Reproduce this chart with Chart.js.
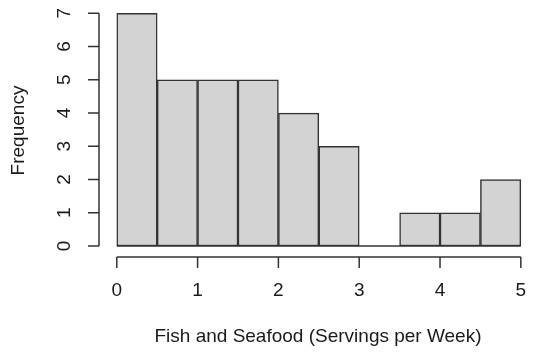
<!DOCTYPE html>
<html>
<head>
<meta charset="utf-8">
<script src="https://cdn.jsdelivr.net/npm/chart.js@4"></script>
<style>
  html, body { margin: 0; padding: 0; background: #ffffff; }
  canvas { display: block; }
</style>
</head>
<body>
<canvas id="hist" width="537" height="354"></canvas>
<script>
// Histogram bins (servings per week) and their counts
const binEdges = [0, 0.5, 1, 1.5, 2, 2.5, 3, 3.5, 4, 4.5, 5];
const counts = [7, 5, 5, 5, 4, 3, 0, 1, 1, 2];
const xTicks = [0, 1, 2, 3, 4, 5];
const yTicks = [0, 1, 2, 3, 4, 5, 6, 7];
const xTitle = 'Fish and Seafood (Servings per Week)';
const yTitle = 'Frequency';

const FONT = '19px "Liberation Sans", Arial, sans-serif';
const INK = '#1a1a1a';

// bar centres built from the bin edges
const barPoints = counts.map((c, i) => ({ x: (binEdges[i] + binEdges[i + 1]) / 2, y: c }));

// R-style detached axes, tick marks, labels and titles
const baseAxes = {
  id: 'baseAxes',
  afterDatasetsDraw(chart) {
    const { ctx, chartArea, scales: { x, y } } = chart;
    const axisX = chartArea.left;
    const axisY = chartArea.bottom;
    const tickLen = 11;
    ctx.save();
    ctx.strokeStyle = '#333333';
    ctx.lineWidth = 1.5;
    ctx.lineCap = 'butt';

    // baseline under the bars (shows empty bins too)
    ctx.beginPath();
    ctx.moveTo(x.getPixelForValue(binEdges[0]), y.getPixelForValue(0));
    ctx.lineTo(x.getPixelForValue(binEdges[binEdges.length - 1]), y.getPixelForValue(0));
    ctx.stroke();

    // y axis
    const y0 = y.getPixelForValue(yTicks[0]);
    const y1 = y.getPixelForValue(yTicks[yTicks.length - 1]);
    ctx.beginPath();
    ctx.moveTo(axisX, y0);
    ctx.lineTo(axisX, y1);
    yTicks.forEach(v => {
      const p = y.getPixelForValue(v);
      ctx.moveTo(axisX, p);
      ctx.lineTo(axisX - tickLen, p);
    });
    ctx.stroke();

    // x axis
    const x0 = x.getPixelForValue(xTicks[0]);
    const x1 = x.getPixelForValue(xTicks[xTicks.length - 1]);
    ctx.beginPath();
    ctx.moveTo(x0, axisY);
    ctx.lineTo(x1, axisY);
    xTicks.forEach(v => {
      const p = x.getPixelForValue(v);
      ctx.moveTo(p, axisY);
      ctx.lineTo(p, axisY + tickLen);
    });
    ctx.stroke();

    ctx.fillStyle = INK;
    ctx.font = FONT;
    ctx.textAlign = 'center';
    ctx.textBaseline = 'middle';

    // x tick labels
    xTicks.forEach(v => {
      ctx.fillText(String(v), x.getPixelForValue(v), axisY + 34);
    });

    // y tick labels, rotated
    yTicks.forEach(v => {
      ctx.save();
      ctx.translate(axisX - 34, y.getPixelForValue(v));
      ctx.rotate(-Math.PI / 2);
      ctx.fillText(String(v), 0, 0);
      ctx.restore();
    });

    // axis titles
    const midX = (chartArea.left + chartArea.right) / 2;
    const midY = (chartArea.top + chartArea.bottom) / 2;
    ctx.fillText(xTitle, midX, axisY + 80);
    ctx.save();
    ctx.translate(19, midY);
    ctx.rotate(-Math.PI / 2);
    ctx.fillText(yTitle, 0, 0);
    ctx.restore();

    ctx.restore();
  }
};

new Chart(document.getElementById('hist'), {
  type: 'bar',
  data: {
    datasets: [{
      data: barPoints,
      backgroundColor: '#d3d3d3',
      borderColor: '#333333',
      borderWidth: 1.5,
      borderSkipped: false,
      barPercentage: 1.0,
      categoryPercentage: 1.0
    }]
  },
  options: {
    responsive: false,
    animation: false,
    devicePixelRatio: 1,
    layout: { padding: { left: 99, right: 0, top: 4, bottom: 97 } },
    plugins: { legend: { display: false }, tooltip: { enabled: false } },
    scales: {
      x: { type: 'linear', min: -0.22, max: 5.2, offset: false, display: false },
      y: { type: 'linear', min: -0.33, max: 7.28, display: false }
    }
  },
  plugins: [baseAxes]
});
</script>
</body>
</html>
